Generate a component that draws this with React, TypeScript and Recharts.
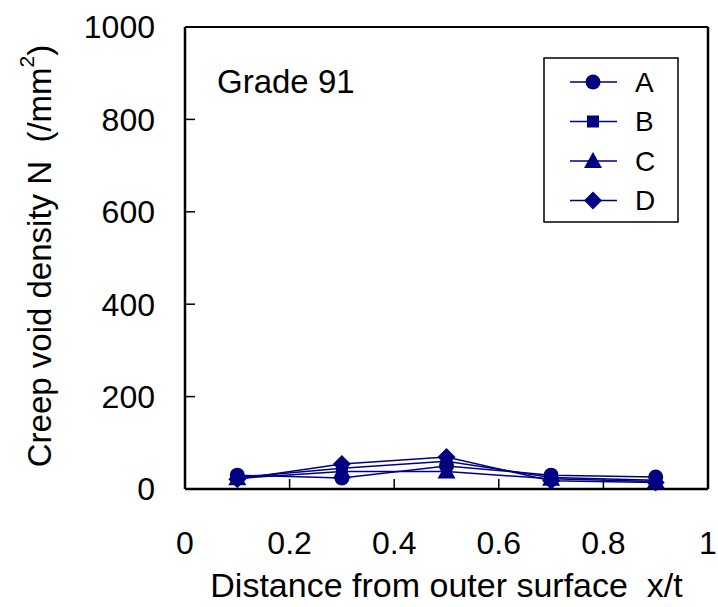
import { LineChart, Line, XAxis, YAxis, Legend, ReferenceLine } from 'recharts';

// x/t の測定位置
const positions = [0.1, 0.3, 0.5, 0.7, 0.9];

// 各試料のクリープボイド密度 (/mm2)
const seriesA = [30, 24, 50, 30, 26];
const seriesB = [25, 45, 60, 25, 19];
const seriesC = [23, 38, 38, 22, 16];
const seriesD = [21, 54, 69, 18, 14];

const xTicks = [0, 0.2, 0.4, 0.6, 0.8, 1];
const yTicks = [0, 200, 400, 600, 800, 1000];

const seriesNames = ['A', 'B', 'C', 'D'];
const markerShapes = ['circle', 'square', 'triangle', 'diamond'];

const data = positions.map((x, i) => ({
  x,
  A: seriesA[i],
  B: seriesB[i],
  C: seriesC[i],
  D: seriesD[i],
}));

const NAVY = '#000080';
const FONT = '"Liberation Sans", Arial, sans-serif';

const Marker = ({ shape, cx, cy }: { shape: string; cx: number; cy: number }) => {
  if (shape === 'circle') return <circle cx={cx} cy={cy} r={7.5} fill={NAVY} />;
  if (shape === 'square') return <rect x={cx - 6} y={cy - 6} width={12} height={12} fill={NAVY} />;
  if (shape === 'triangle')
    return <polygon points={`${cx},${cy - 9} ${cx + 9},${cy + 7} ${cx - 9},${cy + 7}`} fill={NAVY} />;
  return <polygon points={`${cx},${cy - 9} ${cx + 9},${cy} ${cx},${cy + 9} ${cx - 9},${cy}`} fill={NAVY} />;
};

const makeDot = (shape: string) => (props: any) => {
  const { cx, cy, index } = props;
  if (cx == null || cy == null) return <g key={`d-${shape}-${index}`} />;
  return (
    <g key={`d-${shape}-${index}`}>
      <Marker shape={shape} cx={cx} cy={cy} />
    </g>
  );
};

// 凡例（枠付き）
const CustomLegend = () => (
  <svg width={136} height={166} style={{ display: 'block' }}>
    <rect x={1} y={1} width={134} height={164} fill="#fff" stroke="#000" strokeWidth={1.5} />
    {seriesNames.map((name, i) => {
      const cy = 25 + i * 39.5;
      return (
        <g key={name}>
          <line x1={27} x2={74} y1={cy} y2={cy} stroke={NAVY} strokeWidth={1.5} />
          <Marker shape={markerShapes[i]} cx={50} cy={cy} />
          <text x={92} y={cy + 9.5} fontSize={28} fontFamily={FONT} fill="#000">
            {name}
          </text>
        </g>
      );
    })}
  </svg>
);

const YLabel = () => (
  <text
    x={39}
    y={256}
    transform="rotate(-90 39 256)"
    textAnchor="middle"
    dominantBaseline="central"
    fontSize={33}
    fontFamily={FONT}
    fill="#000"
  >
    Creep void density N{'\u00a0\u00a0'}(/mm
    <tspan fontSize={21} dy={-13}>2</tspan>
    <tspan dy={13}>)</tspan>
  </text>
);

export default function App() {
  return (
    <div style={{ position: 'absolute', left: 0, top: 0, width: 718, height: 607, background: '#fff' }}>
      <LineChart width={718} height={607} data={data} margin={{ top: 27, right: 10, left: 0, bottom: 0 }}>
        <XAxis
          dataKey="x"
          type="number"
          domain={[0, 1]}
          ticks={xTicks}
          tickFormatter={(v) => String(v)}
          height={118}
          axisLine={{ stroke: '#000', strokeWidth: 2.5 }}
          tickLine={{ stroke: '#000', strokeWidth: 1.5 }}
          tickSize={-10}
          tickMargin={52}
          tick={{ fill: '#000', fontSize: 32, fontFamily: FONT }}
          label={{
            value: 'Distance from outer surface\u00a0\u00a0x/t',
            position: 'insideBottom',
            offset: 10,
            fill: '#000',
            fontSize: 34,
            fontFamily: FONT,
          }}
        />
        <YAxis
          type="number"
          domain={[0, 1000]}
          ticks={yTicks}
          width={185}
          axisLine={{ stroke: '#000', strokeWidth: 2.5 }}
          tickLine={{ stroke: '#000', strokeWidth: 1.5 }}
          tickSize={-10}
          tickMargin={40}
          tick={{ fill: '#000', fontSize: 32, fontFamily: FONT }}
          label={{ content: () => <YLabel /> }}
        />
        <ReferenceLine y={1000} stroke="#000" strokeWidth={2} />
        <ReferenceLine x={1} stroke="#000" strokeWidth={2.5} />
        <Legend
          verticalAlign="middle"
          layout="horizontal"
          content={() => <CustomLegend />}
          wrapperStyle={{ left: 543, top: 57, width: 136, height: 166 }}
        />
        {seriesNames.map((name, i) => (
          <Line
            key={name}
            dataKey={name}
            stroke={NAVY}
            strokeWidth={1.5}
            dot={makeDot(markerShapes[i])}
            activeDot={false}
            isAnimationActive={false}
          />
        ))}
      </LineChart>
      <svg
        width={718}
        height={607}
        style={{ position: 'absolute', left: 0, top: 0, pointerEvents: 'none' }}
      >
        <text x={217} y={93} fontSize={33} fontFamily={FONT} fill="#000">
          Grade 91
        </text>
      </svg>
    </div>
  );
}
